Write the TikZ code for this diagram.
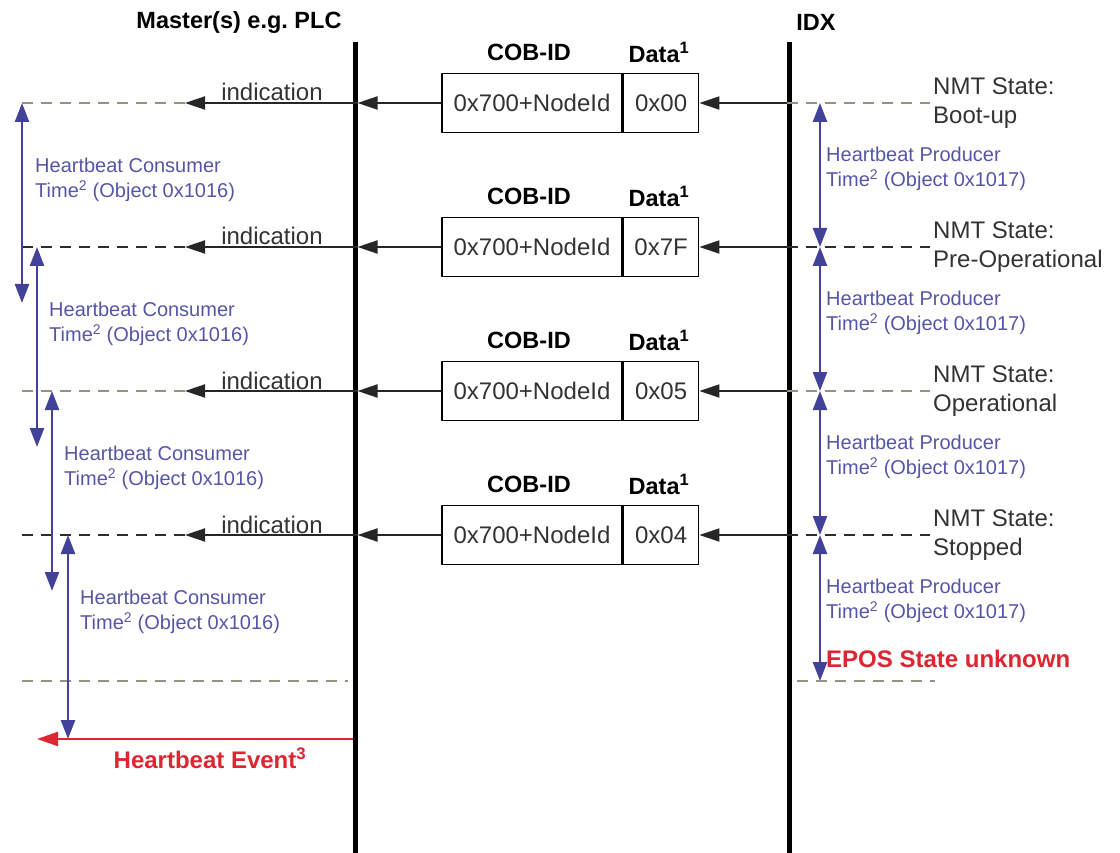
\documentclass[tikz,border=0pt]{standalone}
\usepackage{fontspec}
\setmainfont{Liberation Sans}
\usetikzlibrary{arrows.meta}

\definecolor{hbblue}{RGB}{66,66,152}
\definecolor{hbtext}{RGB}{86,86,168}
\definecolor{dashgray}{RGB}{150,145,128}
\definecolor{dashdark}{RGB}{45,45,45}
\definecolor{evred}{RGB}{222,38,50}

\tikzset{
  life/.style={line width=5pt, black},
  msg/.style={line width=1.9pt, draw=black!85, -{Triangle[length=20pt,width=13pt]}},
  dgray/.style={line width=1.8pt, draw=dashgray, dash pattern=on 11pt off 8pt},
  ddark/.style={line width=1.6pt, draw=dashdark, dash pattern=on 11pt off 8pt},
  period/.style={line width=2.4pt, draw=hbblue,
    {Triangle[length=19pt,width=14pt]}-{Triangle[length=19pt,width=14pt]}},
  cobbox/.style={draw, line width=1.6pt, minimum height=59pt, inner sep=0pt,
    text=black!80, font=\fontsize{24}{28}\selectfont},
  hdr/.style={font=\bfseries\fontsize{23.5}{27}\selectfont, inner sep=0pt},
  note/.style={text=hbtext, font=\fontsize{20}{25}\selectfont, align=left,
    anchor=west, inner sep=0pt},
  state/.style={text=black!80, font=\fontsize{24}{29}\selectfont, align=left,
    anchor=west, inner sep=0pt},
  indlabel/.style={text=black!80, font=\fontsize{24}{28}\selectfont,
    anchor=base, inner sep=0pt},
  alarm/.style={text=evred, font=\bfseries\fontsize{24}{28}\selectfont, inner sep=0pt}
}

\begin{document}
\begin{tikzpicture}[x=1pt,y=-1pt]
\fill[white] (0,0) rectangle (1120,853);
\useasboundingbox (0,0) rectangle (1120,853);

% lifelines
\node[hdr] (master) at (239,22) {Master(s) e.g.\ PLC};
\node[hdr] (idx) at (816,22) {IDX};
\coordinate (mtop) at (355,42);
\coordinate (mbot) at (355,853);
\coordinate (itop) at (789,42);
\coordinate (ibot) at (789,853);
\draw[life] (mtop) -- (mbot);
\draw[life] (itop) -- (ibot);

% heartbeat messages, one per NMT state
\foreach \i/\y/\dat/\st/\lsty/\rsty/\cx/\px in {
  1/103/0x00/Boot-up/dgray/dgray/22/35,
  2/247/0x7F/Pre-Operational/ddark/ddark/37/49,
  3/391/0x05/Operational/dgray/dgray/52/64,
  4/535/0x04/Stopped/ddark/ddark/68/80}{
  \node[cobbox, minimum width=180pt] (cob\i) at (532,\y) {0x700+NodeId};
  \node[cobbox, minimum width=75pt, anchor=west] (dat\i) at (cob\i.east) {\dat};
  \node[hdr] (cobh\i) at (529,\y-51) {COB-ID};
  \node[hdr] (dath\i) at (659,\y-51) {Data\textsuperscript{1}};
  \coordinate (mL\i) at (357.5,\y);
  \coordinate (mR\i) at (786.5,\y);
  \coordinate (ind\i) at (185,\y);
  \coordinate (dl\i) at (22,\y);
  \coordinate (dr\i) at (930,\y);
  \draw[msg] (mR\i) -- (dat\i.east);
  \draw[msg] (cob\i.west) -- (mL\i);
  \draw[msg] (mL\i) -- (ind\i);
  \node[indlabel] (indt\i) at (272,\y-2) {indication};
  \draw[\lsty] (ind\i) -- (dl\i);
  \draw[\rsty] (mR\i) -- (dr\i);
  \node[state] (nmt\i) at (933,\y) {NMT State:\\\st};
  % consumer supervision time
  \coordinate (ca\i) at (\cx,\y);
  \node[note] (cons\i) at (\px,\y+77) {Heartbeat Consumer\\Time\textsuperscript{2} (Object 0x1016)};
  % producer period
  \coordinate (pa\i) at (820,\y);
  \node[note] (prod\i) at (826,\y+66) {Heartbeat Producer\\Time\textsuperscript{2} (Object 0x1017)};
}

% end of the producer periods
\coordinate (pa5) at (820,681);
\draw[period] (pa1) -- (pa2);
\draw[period] (pa2) -- (pa3);
\draw[period] (pa3) -- (pa4);
\draw[period] (pa4) -- (pa5);

% lost heartbeat
\coordinate (lbL) at (22,681);
\coordinate (lbR) at (348,681);
\draw[dgray] (lbL) -- (lbR);
\coordinate (rbL) at (797,681);
\coordinate (rbR) at (935,681);
\draw[dgray] (rbL) -- (rbR);
\node[alarm, anchor=west] (unknown) at (826,659) {EPOS State unknown};

% consumer timeouts
\coordinate (ce1) at (22,303);
\coordinate (ce2) at (37,447);
\coordinate (ce3) at (52,591);
\coordinate (ce4) at (68,739);
\draw[period] (ca1) -- (ce1);
\draw[period] (ca2) -- (ce2);
\draw[period] (ca3) -- (ce3);
\draw[period] (ca4) -- (ce4);

% heartbeat event raised on the master
\coordinate (evR) at (353,739);
\coordinate (evL) at (37,739);
\draw[line width=2pt, draw=evred, -{Triangle[length=21pt,width=14pt]}] (evR) -- (evL);
\node[alarm] (event) at (210,758) {Heartbeat Event\textsuperscript{3}};
\end{tikzpicture}
\end{document}
